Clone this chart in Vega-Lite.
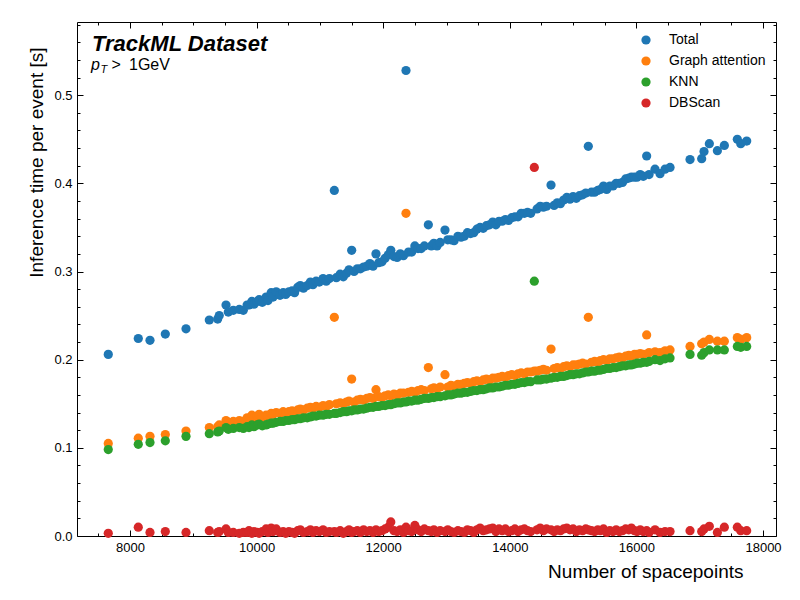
{
  "$schema": "https://vega.github.io/schema/vega-lite/v6.json",
  "width": 699,
  "height": 514,
  "autosize": {"type": "none"},
  "padding": {"left": 77, "top": 22, "right": 24, "bottom": 64},
  "background": "white",
  "data": {
    "values": [
      {"n": 7657, "Total": 0.206, "Graph attention": 0.105, "KNN": 0.098, "DBScan": 0.003},
      {"n": 8131, "Total": 0.224, "Graph attention": 0.111, "KNN": 0.104, "DBScan": 0.010},
      {"n": 8316, "Total": 0.222, "Graph attention": 0.113, "KNN": 0.106, "DBScan": 0.004},
      {"n": 8558, "Total": 0.229, "Graph attention": 0.115, "KNN": 0.108, "DBScan": 0.005},
      {"n": 8885, "Total": 0.235, "Graph attention": 0.119, "KNN": 0.113, "DBScan": 0.004},
      {"n": 9253, "Total": 0.245, "Graph attention": 0.123, "KNN": 0.116, "DBScan": 0.006},
      {"n": 9385, "Total": 0.246, "Graph attention": 0.124, "KNN": 0.118, "DBScan": 0.004},
      {"n": 9410, "Total": 0.250, "Graph attention": 0.126, "KNN": 0.119, "DBScan": 0.005},
      {"n": 9517, "Total": 0.262, "Graph attention": 0.131, "KNN": 0.123, "DBScan": 0.008},
      {"n": 9553, "Total": 0.254, "Graph attention": 0.129, "KNN": 0.121, "DBScan": 0.004},
      {"n": 9632, "Total": 0.256, "Graph attention": 0.130, "KNN": 0.122, "DBScan": 0.004},
      {"n": 9727, "Total": 0.257, "Graph attention": 0.131, "KNN": 0.123, "DBScan": 0.003},
      {"n": 9790, "Total": 0.256, "Graph attention": 0.130, "KNN": 0.122, "DBScan": 0.004},
      {"n": 9850, "Total": 0.262, "Graph attention": 0.134, "KNN": 0.124, "DBScan": 0.004},
      {"n": 9880, "Total": 0.262, "Graph attention": 0.133, "KNN": 0.123, "DBScan": 0.006},
      {"n": 9925, "Total": 0.266, "Graph attention": 0.137, "KNN": 0.126, "DBScan": 0.003},
      {"n": 9960, "Total": 0.263, "Graph attention": 0.134, "KNN": 0.124, "DBScan": 0.005},
      {"n": 10010, "Total": 0.266, "Graph attention": 0.136, "KNN": 0.126, "DBScan": 0.004},
      {"n": 10040, "Total": 0.268, "Graph attention": 0.138, "KNN": 0.127, "DBScan": 0.003},
      {"n": 10090, "Total": 0.265, "Graph attention": 0.135, "KNN": 0.125, "DBScan": 0.005},
      {"n": 10150, "Total": 0.271, "Graph attention": 0.137, "KNN": 0.126, "DBScan": 0.008},
      {"n": 10180, "Total": 0.267, "Graph attention": 0.136, "KNN": 0.127, "DBScan": 0.004},
      {"n": 10230, "Total": 0.276, "Graph attention": 0.139, "KNN": 0.128, "DBScan": 0.009},
      {"n": 10260, "Total": 0.271, "Graph attention": 0.138, "KNN": 0.128, "DBScan": 0.005},
      {"n": 10310, "Total": 0.277, "Graph attention": 0.140, "KNN": 0.129, "DBScan": 0.008},
      {"n": 10370, "Total": 0.273, "Graph attention": 0.139, "KNN": 0.130, "DBScan": 0.004},
      {"n": 10420, "Total": 0.276, "Graph attention": 0.141, "KNN": 0.130, "DBScan": 0.005},
      {"n": 10460, "Total": 0.274, "Graph attention": 0.140, "KNN": 0.131, "DBScan": 0.003},
      {"n": 10510, "Total": 0.277, "Graph attention": 0.141, "KNN": 0.131, "DBScan": 0.005},
      {"n": 10560, "Total": 0.278, "Graph attention": 0.142, "KNN": 0.132, "DBScan": 0.004},
      {"n": 10600, "Total": 0.276, "Graph attention": 0.141, "KNN": 0.132, "DBScan": 0.003},
      {"n": 10650, "Total": 0.282, "Graph attention": 0.143, "KNN": 0.133, "DBScan": 0.006},
      {"n": 10690, "Total": 0.284, "Graph attention": 0.144, "KNN": 0.133, "DBScan": 0.007},
      {"n": 10740, "Total": 0.281, "Graph attention": 0.143, "KNN": 0.134, "DBScan": 0.004},
      {"n": 10800, "Total": 0.284, "Graph attention": 0.145, "KNN": 0.134, "DBScan": 0.005},
      {"n": 10850, "Total": 0.288, "Graph attention": 0.146, "KNN": 0.135, "DBScan": 0.007},
      {"n": 10890, "Total": 0.285, "Graph attention": 0.145, "KNN": 0.136, "DBScan": 0.004},
      {"n": 10940, "Total": 0.289, "Graph attention": 0.147, "KNN": 0.136, "DBScan": 0.006},
      {"n": 10990, "Total": 0.288, "Graph attention": 0.146, "KNN": 0.137, "DBScan": 0.005},
      {"n": 11050, "Total": 0.292, "Graph attention": 0.148, "KNN": 0.137, "DBScan": 0.007},
      {"n": 11100, "Total": 0.289, "Graph attention": 0.147, "KNN": 0.138, "DBScan": 0.004},
      {"n": 11150, "Total": 0.292, "Graph attention": 0.149, "KNN": 0.138, "DBScan": 0.005},
      {"n": 11228, "Total": 0.392, "Graph attention": 0.248, "KNN": 0.139, "DBScan": 0.005},
      {"n": 11260, "Total": 0.293, "Graph attention": 0.150, "KNN": 0.139, "DBScan": 0.004},
      {"n": 11320, "Total": 0.297, "Graph attention": 0.151, "KNN": 0.140, "DBScan": 0.006},
      {"n": 11370, "Total": 0.294, "Graph attention": 0.150, "KNN": 0.141, "DBScan": 0.003},
      {"n": 11420, "Total": 0.298, "Graph attention": 0.152, "KNN": 0.141, "DBScan": 0.005},
      {"n": 11460, "Total": 0.302, "Graph attention": 0.153, "KNN": 0.142, "DBScan": 0.007},
      {"n": 11502, "Total": 0.324, "Graph attention": 0.178, "KNN": 0.142, "DBScan": 0.004},
      {"n": 11540, "Total": 0.300, "Graph attention": 0.152, "KNN": 0.143, "DBScan": 0.005},
      {"n": 11590, "Total": 0.303, "Graph attention": 0.154, "KNN": 0.143, "DBScan": 0.006},
      {"n": 11640, "Total": 0.303, "Graph attention": 0.155, "KNN": 0.144, "DBScan": 0.004},
      {"n": 11690, "Total": 0.305, "Graph attention": 0.154, "KNN": 0.144, "DBScan": 0.007},
      {"n": 11740, "Total": 0.306, "Graph attention": 0.156, "KNN": 0.145, "DBScan": 0.005},
      {"n": 11790, "Total": 0.309, "Graph attention": 0.157, "KNN": 0.146, "DBScan": 0.006},
      {"n": 11840, "Total": 0.306, "Graph attention": 0.156, "KNN": 0.146, "DBScan": 0.004},
      {"n": 11886, "Total": 0.320, "Graph attention": 0.166, "KNN": 0.147, "DBScan": 0.007},
      {"n": 11930, "Total": 0.310, "Graph attention": 0.158, "KNN": 0.147, "DBScan": 0.005},
      {"n": 11980, "Total": 0.311, "Graph attention": 0.157, "KNN": 0.148, "DBScan": 0.006},
      {"n": 12030, "Total": 0.315, "Graph attention": 0.159, "KNN": 0.148, "DBScan": 0.008},
      {"n": 12080, "Total": 0.319, "Graph attention": 0.160, "KNN": 0.149, "DBScan": 0.010},
      {"n": 12120, "Total": 0.324, "Graph attention": 0.159, "KNN": 0.149, "DBScan": 0.016},
      {"n": 12170, "Total": 0.317, "Graph attention": 0.161, "KNN": 0.150, "DBScan": 0.006},
      {"n": 12220, "Total": 0.316, "Graph attention": 0.160, "KNN": 0.151, "DBScan": 0.005},
      {"n": 12270, "Total": 0.320, "Graph attention": 0.162, "KNN": 0.151, "DBScan": 0.007},
      {"n": 12320, "Total": 0.318, "Graph attention": 0.162, "KNN": 0.152, "DBScan": 0.004},
      {"n": 12360, "Total": 0.528, "Graph attention": 0.366, "KNN": 0.152, "DBScan": 0.010},
      {"n": 12400, "Total": 0.322, "Graph attention": 0.163, "KNN": 0.153, "DBScan": 0.006},
      {"n": 12450, "Total": 0.322, "Graph attention": 0.164, "KNN": 0.153, "DBScan": 0.005},
      {"n": 12500, "Total": 0.329, "Graph attention": 0.163, "KNN": 0.154, "DBScan": 0.012},
      {"n": 12550, "Total": 0.326, "Graph attention": 0.165, "KNN": 0.154, "DBScan": 0.007},
      {"n": 12600, "Total": 0.326, "Graph attention": 0.166, "KNN": 0.155, "DBScan": 0.005},
      {"n": 12650, "Total": 0.329, "Graph attention": 0.165, "KNN": 0.156, "DBScan": 0.008},
      {"n": 12713, "Total": 0.353, "Graph attention": 0.191, "KNN": 0.156, "DBScan": 0.006},
      {"n": 12760, "Total": 0.329, "Graph attention": 0.167, "KNN": 0.157, "DBScan": 0.005},
      {"n": 12800, "Total": 0.332, "Graph attention": 0.168, "KNN": 0.157, "DBScan": 0.007},
      {"n": 12850, "Total": 0.329, "Graph attention": 0.167, "KNN": 0.158, "DBScan": 0.004},
      {"n": 12900, "Total": 0.333, "Graph attention": 0.169, "KNN": 0.158, "DBScan": 0.006},
      {"n": 12976, "Total": 0.347, "Graph attention": 0.183, "KNN": 0.159, "DBScan": 0.005},
      {"n": 13020, "Total": 0.336, "Graph attention": 0.169, "KNN": 0.160, "DBScan": 0.007},
      {"n": 13070, "Total": 0.336, "Graph attention": 0.171, "KNN": 0.160, "DBScan": 0.005},
      {"n": 13120, "Total": 0.335, "Graph attention": 0.170, "KNN": 0.161, "DBScan": 0.004},
      {"n": 13180, "Total": 0.340, "Graph attention": 0.172, "KNN": 0.162, "DBScan": 0.006},
      {"n": 13230, "Total": 0.339, "Graph attention": 0.172, "KNN": 0.162, "DBScan": 0.005},
      {"n": 13280, "Total": 0.340, "Graph attention": 0.173, "KNN": 0.163, "DBScan": 0.004},
      {"n": 13330, "Total": 0.344, "Graph attention": 0.174, "KNN": 0.163, "DBScan": 0.007},
      {"n": 13380, "Total": 0.343, "Graph attention": 0.173, "KNN": 0.164, "DBScan": 0.006},
      {"n": 13430, "Total": 0.344, "Graph attention": 0.175, "KNN": 0.165, "DBScan": 0.004},
      {"n": 13480, "Total": 0.348, "Graph attention": 0.176, "KNN": 0.165, "DBScan": 0.007},
      {"n": 13530, "Total": 0.350, "Graph attention": 0.175, "KNN": 0.166, "DBScan": 0.009},
      {"n": 13580, "Total": 0.349, "Graph attention": 0.177, "KNN": 0.166, "DBScan": 0.006},
      {"n": 13630, "Total": 0.352, "Graph attention": 0.178, "KNN": 0.167, "DBScan": 0.007},
      {"n": 13680, "Total": 0.353, "Graph attention": 0.177, "KNN": 0.168, "DBScan": 0.008},
      {"n": 13730, "Total": 0.356, "Graph attention": 0.179, "KNN": 0.168, "DBScan": 0.009},
      {"n": 13780, "Total": 0.353, "Graph attention": 0.179, "KNN": 0.169, "DBScan": 0.005},
      {"n": 13830, "Total": 0.357, "Graph attention": 0.180, "KNN": 0.169, "DBScan": 0.008},
      {"n": 13880, "Total": 0.357, "Graph attention": 0.181, "KNN": 0.170, "DBScan": 0.006},
      {"n": 13930, "Total": 0.359, "Graph attention": 0.180, "KNN": 0.171, "DBScan": 0.008},
      {"n": 13980, "Total": 0.358, "Graph attention": 0.182, "KNN": 0.171, "DBScan": 0.005},
      {"n": 14030, "Total": 0.361, "Graph attention": 0.183, "KNN": 0.172, "DBScan": 0.006},
      {"n": 14080, "Total": 0.362, "Graph attention": 0.182, "KNN": 0.172, "DBScan": 0.008},
      {"n": 14130, "Total": 0.362, "Graph attention": 0.184, "KNN": 0.173, "DBScan": 0.005},
      {"n": 14180, "Total": 0.366, "Graph attention": 0.185, "KNN": 0.174, "DBScan": 0.007},
      {"n": 14230, "Total": 0.366, "Graph attention": 0.184, "KNN": 0.174, "DBScan": 0.008},
      {"n": 14280, "Total": 0.367, "Graph attention": 0.186, "KNN": 0.175, "DBScan": 0.006},
      {"n": 14330, "Total": 0.366, "Graph attention": 0.186, "KNN": 0.175, "DBScan": 0.005},
      {"n": 14387, "Graph attention": 0.187, "KNN": 0.289, "DBScan": 0.418},
      {"n": 14430, "Total": 0.371, "Graph attention": 0.187, "KNN": 0.177, "DBScan": 0.007},
      {"n": 14480, "Total": 0.374, "Graph attention": 0.188, "KNN": 0.177, "DBScan": 0.009},
      {"n": 14530, "Total": 0.373, "Graph attention": 0.189, "KNN": 0.178, "DBScan": 0.006},
      {"n": 14580, "Total": 0.374, "Graph attention": 0.188, "KNN": 0.178, "DBScan": 0.008},
      {"n": 14651, "Total": 0.398, "Graph attention": 0.212, "KNN": 0.179, "DBScan": 0.007},
      {"n": 14700, "Total": 0.375, "Graph attention": 0.190, "KNN": 0.180, "DBScan": 0.005},
      {"n": 14750, "Total": 0.378, "Graph attention": 0.191, "KNN": 0.180, "DBScan": 0.007},
      {"n": 14800, "Total": 0.377, "Graph attention": 0.190, "KNN": 0.181, "DBScan": 0.006},
      {"n": 14850, "Total": 0.381, "Graph attention": 0.192, "KNN": 0.181, "DBScan": 0.008},
      {"n": 14900, "Total": 0.384, "Graph attention": 0.193, "KNN": 0.182, "DBScan": 0.009},
      {"n": 14950, "Total": 0.382, "Graph attention": 0.192, "KNN": 0.183, "DBScan": 0.007},
      {"n": 15000, "Total": 0.385, "Graph attention": 0.194, "KNN": 0.183, "DBScan": 0.008},
      {"n": 15050, "Total": 0.383, "Graph attention": 0.194, "KNN": 0.184, "DBScan": 0.005},
      {"n": 15100, "Total": 0.386, "Graph attention": 0.195, "KNN": 0.184, "DBScan": 0.007},
      {"n": 15150, "Total": 0.387, "Graph attention": 0.196, "KNN": 0.185, "DBScan": 0.006},
      {"n": 15200, "Total": 0.389, "Graph attention": 0.195, "KNN": 0.186, "DBScan": 0.008},
      {"n": 15240, "Total": 0.442, "Graph attention": 0.248, "KNN": 0.186, "DBScan": 0.007},
      {"n": 15290, "Total": 0.390, "Graph attention": 0.197, "KNN": 0.187, "DBScan": 0.006},
      {"n": 15340, "Total": 0.390, "Graph attention": 0.198, "KNN": 0.187, "DBScan": 0.005},
      {"n": 15390, "Total": 0.392, "Graph attention": 0.197, "KNN": 0.188, "DBScan": 0.007},
      {"n": 15430, "Total": 0.393, "Graph attention": 0.199, "KNN": 0.188, "DBScan": 0.006},
      {"n": 15480, "Total": 0.397, "Graph attention": 0.200, "KNN": 0.189, "DBScan": 0.008},
      {"n": 15530, "Total": 0.393, "Graph attention": 0.199, "KNN": 0.190, "DBScan": 0.004},
      {"n": 15580, "Total": 0.397, "Graph attention": 0.201, "KNN": 0.190, "DBScan": 0.006},
      {"n": 15630, "Total": 0.397, "Graph attention": 0.201, "KNN": 0.191, "DBScan": 0.005},
      {"n": 15680, "Total": 0.400, "Graph attention": 0.202, "KNN": 0.191, "DBScan": 0.007},
      {"n": 15730, "Total": 0.400, "Graph attention": 0.203, "KNN": 0.192, "DBScan": 0.005},
      {"n": 15780, "Total": 0.401, "Graph attention": 0.202, "KNN": 0.193, "DBScan": 0.006},
      {"n": 15830, "Total": 0.405, "Graph attention": 0.204, "KNN": 0.193, "DBScan": 0.008},
      {"n": 15880, "Total": 0.406, "Graph attention": 0.205, "KNN": 0.194, "DBScan": 0.007},
      {"n": 15920, "Total": 0.407, "Graph attention": 0.204, "KNN": 0.194, "DBScan": 0.009},
      {"n": 15970, "Total": 0.407, "Graph attention": 0.206, "KNN": 0.195, "DBScan": 0.006},
      {"n": 16010, "Total": 0.407, "Graph attention": 0.206, "KNN": 0.196, "DBScan": 0.005},
      {"n": 16060, "Total": 0.410, "Graph attention": 0.207, "KNN": 0.196, "DBScan": 0.007},
      {"n": 16109, "Total": 0.408, "Graph attention": 0.206, "KNN": 0.197, "DBScan": 0.005},
      {"n": 16162, "Total": 0.431, "Graph attention": 0.228, "KNN": 0.197, "DBScan": 0.006},
      {"n": 16200, "Total": 0.410, "Graph attention": 0.208, "KNN": 0.198, "DBScan": 0.004},
      {"n": 16294, "Total": 0.416, "Graph attention": 0.209, "KNN": 0.200, "DBScan": 0.007},
      {"n": 16373, "Total": 0.411, "Graph attention": 0.208, "KNN": 0.199, "DBScan": 0.004},
      {"n": 16452, "Total": 0.416, "Graph attention": 0.210, "KNN": 0.201, "DBScan": 0.005},
      {"n": 16531, "Total": 0.418, "Graph attention": 0.211, "KNN": 0.202, "DBScan": 0.005},
      {"n": 16847, "Total": 0.427, "Graph attention": 0.215, "KNN": 0.206, "DBScan": 0.006},
      {"n": 17031, "Total": 0.428, "Graph attention": 0.218, "KNN": 0.205, "DBScan": 0.005},
      {"n": 17068, "Total": 0.436, "Graph attention": 0.220, "KNN": 0.208, "DBScan": 0.008},
      {"n": 17152, "Total": 0.445, "Graph attention": 0.223, "KNN": 0.211, "DBScan": 0.011},
      {"n": 17279, "Total": 0.437, "Graph attention": 0.221, "KNN": 0.211, "DBScan": 0.004},
      {"n": 17389, "Total": 0.443, "Graph attention": 0.221, "KNN": 0.211, "DBScan": 0.010},
      {"n": 17594, "Total": 0.450, "Graph attention": 0.225, "KNN": 0.215, "DBScan": 0.010},
      {"n": 17648, "Total": 0.445, "Graph attention": 0.223, "KNN": 0.214, "DBScan": 0.006},
      {"n": 17742, "Total": 0.448, "Graph attention": 0.225, "KNN": 0.215, "DBScan": 0.006}
    ]
  },
  "resolve": {"axis": {"x": "independent", "y": "independent"}},
  "layer": [
    {
      "mark": {"type": "point", "filled": true, "size": 85, "opacity": 1, "invalid": "filter"},
      "encoding": {
        "x": {
          "field": "n", "type": "quantitative",
          "scale": {"domain": [7163, 18205], "nice": false, "zero": false},
          "axis": {
            "orient": "bottom", "values": [8000, 10000, 12000, 14000, 16000, 18000],
            "format": "d", "tickSize": -6, "labelPadding": 11,
            "title": "Number of spacepoints", "titleAlign": "right", "titleBaseline": "alphabetic",
            "titleX": 666, "titleY": 41
          }
        },
        "y": {
          "field": "Total", "type": "quantitative",
          "scale": {"domain": [0, 0.583], "nice": false, "zero": false},
          "axis": {
            "orient": "left", "values": [0, 0.1, 0.2, 0.3, 0.4, 0.5],
            "format": ".1f", "tickSize": -6, "labelPadding": 11,
            "title": "Inference time per event [s]", "titleAngle": 270, "titleAlign": "right",
            "titleBaseline": "alphabetic", "titleX": -35, "titleY": 25
          }
        },
        "color": {
          "datum": "Total", "type": "nominal",
          "scale": {"domain": ["Total", "Graph attention", "KNN", "DBScan"], "range": ["#1f77b4", "#ff7f0e", "#2ca02c", "#d62728"]},
          "legend": {
            "title": null, "orient": "none", "legendX": 562, "legendY": 11,
            "symbolType": "circle", "symbolSize": 85, "symbolStrokeWidth": 0,
            "labelFont": "Liberation Sans", "labelFontSize": 14, "labelColor": "black",
            "labelOffset": 16, "rowPadding": 7, "padding": 0
          }
        }
      }
    },
    {
      "mark": {"type": "point", "filled": true, "size": 85, "opacity": 1},
      "encoding": {
        "x": {
          "field": "n", "type": "quantitative",
          "scale": {"domain": [7163, 18205], "nice": false, "zero": false},
          "axis": {"orient": "top", "values": [8000, 10000, 12000, 14000, 16000, 18000], "labels": false, "tickSize": -6, "title": null}
        },
        "y": {
          "field": "Graph attention", "type": "quantitative",
          "scale": {"domain": [0, 0.583], "nice": false, "zero": false},
          "axis": {"orient": "right", "values": [0, 0.1, 0.2, 0.3, 0.4, 0.5], "labels": false, "tickSize": -6, "title": null}
        },
        "color": {"datum": "Graph attention", "type": "nominal"}
      }
    },
    {
      "mark": {"type": "point", "filled": true, "size": 85, "opacity": 1},
      "encoding": {
        "x": {
          "field": "n", "type": "quantitative",
          "scale": {"domain": [7163, 18205], "nice": false, "zero": false},
          "axis": {"orient": "bottom", "values": [7500, 8000, 8500, 9000, 9500, 10000, 10500, 11000, 11500, 12000, 12500, 13000, 13500, 14000, 14500, 15000, 15500, 16000, 16500, 17000, 17500, 18000], "labels": false, "tickSize": -3, "title": null}
        },
        "y": {
          "field": "KNN", "type": "quantitative",
          "scale": {"domain": [0, 0.583], "nice": false, "zero": false},
          "axis": {"orient": "left", "values": [0.02, 0.04, 0.06, 0.08, 0.12, 0.14, 0.16, 0.18, 0.22, 0.24, 0.26, 0.28, 0.32, 0.34, 0.36, 0.38, 0.42, 0.44, 0.46, 0.48, 0.52, 0.54, 0.56, 0.58], "labels": false, "tickSize": -3, "title": null}
        },
        "color": {"datum": "KNN", "type": "nominal"}
      }
    },
    {
      "mark": {"type": "point", "filled": true, "size": 85, "opacity": 1},
      "encoding": {
        "x": {
          "field": "n", "type": "quantitative",
          "scale": {"domain": [7163, 18205], "nice": false, "zero": false},
          "axis": {"orient": "top", "values": [7500, 8000, 8500, 9000, 9500, 10000, 10500, 11000, 11500, 12000, 12500, 13000, 13500, 14000, 14500, 15000, 15500, 16000, 16500, 17000, 17500, 18000], "labels": false, "tickSize": -3, "title": null}
        },
        "y": {
          "field": "DBScan", "type": "quantitative",
          "scale": {"domain": [0, 0.583], "nice": false, "zero": false},
          "axis": {"orient": "right", "values": [0.02, 0.04, 0.06, 0.08, 0.12, 0.14, 0.16, 0.18, 0.22, 0.24, 0.26, 0.28, 0.32, 0.34, 0.36, 0.38, 0.42, 0.44, 0.46, 0.48, 0.52, 0.54, 0.56, 0.58], "labels": false, "tickSize": -3, "title": null}
        },
        "color": {"datum": "DBScan", "type": "nominal"}
      }
    },
    {
      "data": {"values": [{}]},
      "mark": {"type": "text", "text": "TrackML Dataset", "font": "Liberation Sans", "fontSize": 22, "fontWeight": "bold", "fontStyle": "italic", "align": "left", "baseline": "alphabetic", "dx": 15, "dy": 29, "color": "black"},
      "encoding": {
        "x": {"datum": 7163, "type": "quantitative", "axis": null},
        "y": {"datum": 0.583, "type": "quantitative", "axis": null}
      }
    },
    {
      "data": {"values": [{}]},
      "mark": {"type": "text", "text": "p", "font": "Liberation Sans", "fontSize": 16, "fontStyle": "italic", "align": "left", "baseline": "alphabetic", "dx": 14, "dy": 48, "color": "black"},
      "encoding": {
        "x": {"datum": 7163, "type": "quantitative", "axis": null},
        "y": {"datum": 0.583, "type": "quantitative", "axis": null}
      }
    },
    {
      "data": {"values": [{}]},
      "mark": {"type": "text", "text": "T", "font": "Liberation Sans", "fontSize": 11, "fontStyle": "italic", "align": "left", "baseline": "alphabetic", "dx": 23.5, "dy": 51, "color": "black"},
      "encoding": {
        "x": {"datum": 7163, "type": "quantitative", "axis": null},
        "y": {"datum": 0.583, "type": "quantitative", "axis": null}
      }
    },
    {
      "data": {"values": [{}]},
      "mark": {"type": "text", "text": ">", "font": "Liberation Sans", "fontSize": 16, "align": "left", "baseline": "alphabetic", "dx": 34.5, "dy": 48, "color": "black"},
      "encoding": {
        "x": {"datum": 7163, "type": "quantitative", "axis": null},
        "y": {"datum": 0.583, "type": "quantitative", "axis": null}
      }
    },
    {
      "data": {"values": [{}]},
      "mark": {"type": "text", "text": "1GeV", "font": "Liberation Sans", "fontSize": 16, "align": "left", "baseline": "alphabetic", "dx": 52, "dy": 48, "color": "black"},
      "encoding": {
        "x": {"datum": 7163, "type": "quantitative", "axis": null},
        "y": {"datum": 0.583, "type": "quantitative", "axis": null}
      }
    }
  ],
  "config": {
    "view": {"stroke": "black", "strokeWidth": 1},
    "axis": {
      "domain": false, "grid": false, "ticks": true,
      "tickColor": "black", "tickWidth": 1,
      "labelFont": "Liberation Sans", "labelFontSize": 13, "labelColor": "black",
      "titleFont": "Liberation Sans", "titleFontSize": 19, "titleFontWeight": "normal", "titleColor": "black"
    }
  }
}
